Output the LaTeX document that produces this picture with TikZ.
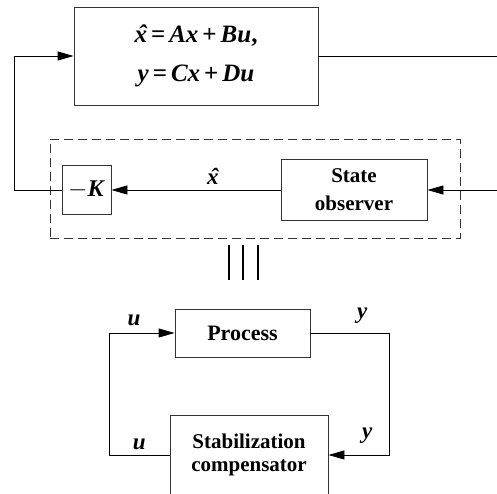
\documentclass[tikz,border=0pt]{standalone}
\usepackage{fontspec}
\setmainfont{Liberation Serif}
\usetikzlibrary{arrows.meta, positioning}

\newcommand{\bv}[1]{\textbf{\textit{#1}}}
\newcommand{\xhat}{\textbf{\textit{\ooalign{x\cr\hidewidth\kern0.12em ˆ\hidewidth\cr}}}}
\newcommand{\eqgap}{\kern4pt}

\begin{document}
\begin{tikzpicture}[x=1pt, y=-1pt,
    blk/.style={draw=black!80, line width=0.9pt, align=center, inner sep=0pt, font=\fontsize{21}{23}\selectfont\bfseries},
    obsbox/.style={blk, dashed, dash pattern=on 9pt off 5pt},
    arr/.style={-{Triangle[length=16pt, width=9pt]}, line width=0.9pt},
    ln/.style={line width=0.9pt},
    lbl/.style={font=\fontsize{23}{25}\selectfont\bfseries\itshape, inner sep=2pt},
]
\clip (0,0) rectangle (497,494);

% --- Plant with state feedback ---
\node[blk, minimum width=244pt, minimum height=98pt, font=\fontsize{25}{39}\selectfont\bfseries] at (196, 56) (plant)
    {\xhat\eqgap=\eqgap\bv{Ax}\eqgap+\eqgap\bv{Bu},\\\bv{y}\eqgap=\eqgap\bv{Cx}\eqgap+\eqgap\bv{Du}};
\node[obsbox, minimum width=410pt, minimum height=99pt] at (255, 188.5) (dash) {};
\node[blk, minimum width=49pt, minimum height=49pt, font=\fontsize{24}{26}\selectfont\bfseries] at (86.5, 190) (gain) {$-$\bv{K}};
\node[blk, minimum width=146pt, minimum height=61pt, font=\fontsize{21}{28}\selectfont\bfseries] at (354, 190) (obs) {State\\observer};

\coordinate (outR) at (497, 56);
\coordinate (inR)  at (497, 190);
\coordinate (fbL)  at (14, 190);

\draw[ln]  (plant.east) -- (outR);
\draw[arr] (inR) -- (obs.east);
\draw[arr] (obs.west) -- node[lbl, above, pos=0.4, yshift=3pt] {\xhat} (gain.east);
\draw[arr] (gain.west) -- (fbL) |- (plant.west);

% --- equivalence sign ---
\foreach \xx in {229, 243, 258}
    \draw[line width=2pt] (\xx, 245) -- (\xx, 280);

% --- Process with stabilization compensator ---
\node[blk, minimum width=135pt, minimum height=48pt, font=\fontsize{22}{24}\selectfont\bfseries] at (242.5, 333) (proc) {Process};
\node[blk, minimum width=158pt, minimum height=80pt] at (249, 455) (stab) {Stabilization\\compensator};

\coordinate (lp) at (109, 455);
\coordinate (rp) at (389, 455);

\draw[arr] (stab.west) -- node[lbl, above, yshift=3pt] {u} (lp) |- node[lbl, above, pos=0.69, yshift=5pt] {u} (proc.west);
\draw[arr] (proc.east) -| node[lbl, above, pos=0.33, yshift=7pt] {y} (rp) -- node[lbl, above, pos=0.36, yshift=9pt] {y} (stab.east);

\end{tikzpicture}
\end{document}
